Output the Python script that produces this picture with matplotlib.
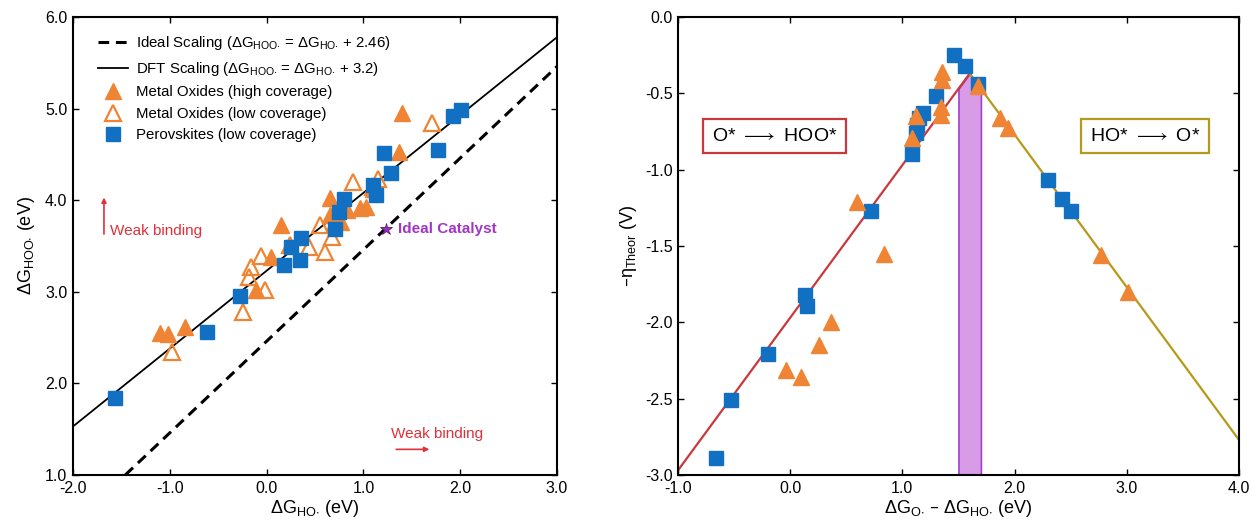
import matplotlib
matplotlib.use("Agg")
import matplotlib.pyplot as plt

plt.rcParams['font.family'] = ['Liberation Sans', 'DejaVu Sans']
plt.rcParams['mathtext.default'] = 'regular'
plt.rcParams['axes.unicode_minus'] = False

ORANGE = '#ef8534'
BLUE = '#1170c2'
RED = '#c9383c'
GOLD = '#b59a1a'
PURPLE = '#9b30c0'

# ---- left panel: scaling relation ----
ideal_x = [-1.46, 3.0]
ideal_y = [1.0, 5.46]
dft_x = [-2.0, 3.0]
dft_y = [1.53, 5.78]

high_x = [-1.10, -1.02, -0.84, -0.11, 0.05, 0.15, 0.65, 0.65, 0.70, 0.77, 0.83,
          0.96, 1.03, 1.10, 1.37, 1.40]
high_y = [2.55, 2.54, 2.62, 3.02, 3.38, 3.73, 4.02, 3.84, 3.75, 3.76, 3.89,
          3.91, 3.93, 4.12, 4.53, 4.95]

low_x = [-0.98, -0.24, -0.18, -0.16, -0.06, -0.02, 0.24, 0.44, 0.60, 0.55, 0.68,
         0.89, 1.10, 1.15, 1.71]
low_y = [2.34, 2.78, 3.16, 3.27, 3.39, 3.02, 3.51, 3.49, 3.43, 3.73, 3.60,
         4.20, 4.14, 4.23, 4.84]

perov_x = [-1.57, -0.62, -0.27, 0.18, 0.25, 0.34, 0.36, 0.71, 0.75, 0.80, 1.10,
           1.13, 1.21, 1.28, 1.77, 1.93, 2.01]
perov_y = [1.84, 2.56, 2.95, 3.29, 3.49, 3.35, 3.59, 3.69, 3.87, 4.01, 4.17,
           4.06, 4.51, 4.30, 4.55, 4.92, 4.98]

ideal_cat = (1.23, 3.69)

# ---- right panel: volcano ----
red_x = [-1.0, 1.6]
red_y = [-2.97, -0.37]
gold_x = [1.6, 4.0]
gold_y = [-0.37, -2.77]
band_x = [1.5, 1.6, 1.7]
band_top = [-0.47, -0.37, -0.47]

vsq_x = [-0.66, -0.53, -0.20, 0.13, 0.15, 0.72, 1.09, 1.12, 1.13, 1.15, 1.18,
         1.30, 1.46, 1.56, 1.67, 2.30, 2.42, 2.50]
vsq_y = [-2.89, -2.51, -2.21, -1.82, -1.89, -1.27, -0.90, -0.76, -0.71, -0.66, -0.63,
         -0.52, -0.25, -0.32, -0.44, -1.07, -1.19, -1.27]
vtri_x = [-0.04, 0.10, 0.26, 0.36, 0.60, 0.84, 1.09, 1.12, 1.35, 1.35, 1.34, 1.34,
          1.67, 1.87, 1.94, 2.77, 3.01]
vtri_y = [-2.31, -2.36, -2.15, -2.00, -1.21, -1.55, -0.79, -0.65, -0.36, -0.41, -0.59,
          -0.64, -0.455, -0.66, -0.73, -1.56, -1.80]

left_ticks_x = [-2.0, -1.0, 0.0, 1.0, 2.0, 3.0]
left_ticks_y = [1.0, 2.0, 3.0, 4.0, 5.0, 6.0]
right_ticks_x = [-1.0, 0.0, 1.0, 2.0, 3.0, 4.0]
right_ticks_y = [-3.0, -2.5, -2.0, -1.5, -1.0, -0.5, 0.0]


def style_axes(ax):
    ax.tick_params(direction='in', length=4, width=1, top=True, right=True,
                   labelsize=11.5, pad=4)
    for s in ax.spines.values():
        s.set_linewidth(1.5)


fig = plt.figure(figsize=(12.52, 5.27), dpi=100)
ax1 = fig.add_axes([0.0583, 0.0987, 0.3866, 0.869])
ax2 = fig.add_axes([0.5415, 0.0987, 0.4481, 0.869])

# left panel
ax1.plot(ideal_x, ideal_y, ls=(0, (3.5, 2.2)), color='black', lw=2.2,
         label=r'Ideal Scaling ($\Delta$G$_{HOO{\cdot}}$ = $\Delta$G$_{HO{\cdot}}$ + 2.46)')
ax1.plot(dft_x, dft_y, color='black', lw=1.3,
         label=r'DFT Scaling ($\Delta$G$_{HOO{\cdot}}$ = $\Delta$G$_{HO{\cdot}}$ + 3.2)')
ax1.plot(high_x, high_y, ls='none', marker='^', ms=11, color=ORANGE, mec=ORANGE,
         label='Metal Oxides (high coverage)')
ax1.plot(low_x, low_y, ls='none', marker='^', ms=11, mfc='none', mec=ORANGE, mew=1.6,
         label='Metal Oxides (low coverage)')
ax1.plot(perov_x, perov_y, ls='none', marker='s', ms=10, color=BLUE,
         label='Perovskites (low coverage)')
ax1.plot([ideal_cat[0]], [ideal_cat[1]], ls='none', marker='*', ms=9, color=PURPLE,
         mec='#5a1a70', mew=0.6)
ax1.text(ideal_cat[0] + 0.13, ideal_cat[1], 'Ideal Catalyst', color='#a035c8',
         fontsize=11, fontweight='bold', va='center', ha='left')

ax1.annotate('', xy=(-1.68, 4.06), xytext=(-1.68, 3.60),
             arrowprops=dict(arrowstyle='-|>', color='#e0303a', lw=1.2,
                             mutation_scale=7))
ax1.text(-1.62, 3.66, 'Weak binding', color='#e0303a', fontsize=11, va='center')
ax1.annotate('', xy=(1.71, 1.28), xytext=(1.31, 1.28),
             arrowprops=dict(arrowstyle='-|>', color='#e0303a', lw=1.2,
                             mutation_scale=7))
ax1.text(1.28, 1.45, 'Weak binding', color='#e0303a', fontsize=11, va='center')

ax1.set_xlim(-2.0, 3.0)
ax1.set_ylim(1.0, 6.0)
ax1.set_xticks(left_ticks_x)
ax1.set_yticks(left_ticks_y)
ax1.set_xticklabels([f'{v:.1f}' for v in left_ticks_x])
ax1.set_yticklabels([f'{v:.1f}' for v in left_ticks_y])
ax1.set_xlabel(r'$\Delta$G$_{HO{\cdot}}$ (eV)', fontsize=13, labelpad=2)
ax1.set_ylabel(r'$\Delta$G$_{HOO{\cdot}}$ (eV)', fontsize=13, labelpad=6)
style_axes(ax1)
ax1.legend(loc='upper left', frameon=False, fontsize=10.8, handlelength=2.0,
           borderaxespad=0.6, labelspacing=0.5, handletextpad=0.55,
           bbox_to_anchor=(0.02, 0.995))

# right panel
ax2.fill_between(band_x, -3.0, band_top, color='#d89be5', edgecolor='#a43fd0', lw=1.2,
                 zorder=1)
ax2.plot(red_x, red_y, color=RED, lw=1.6, zorder=2)
ax2.plot(gold_x, gold_y, color=GOLD, lw=1.6, zorder=2)
ax2.plot(vsq_x, vsq_y, ls='none', marker='s', ms=10, color=BLUE, zorder=3)
ax2.plot(vtri_x, vtri_y, ls='none', marker='^', ms=11, color=ORANGE, zorder=4)

ax2.text(-0.14, -0.78, r'O* $\longrightarrow$ HOO*', fontsize=14, ha='center', va='center',
         bbox=dict(boxstyle='square,pad=0.45', fc='white', ec=RED, lw=1.6))
ax2.text(3.16, -0.78, r'HO* $\longrightarrow$ O*', fontsize=14, ha='center', va='center',
         bbox=dict(boxstyle='square,pad=0.45', fc='white', ec=GOLD, lw=1.6))

ax2.set_xlim(-1.0, 4.0)
ax2.set_ylim(-3.0, 0.0)
ax2.set_xticks(right_ticks_x)
ax2.set_yticks(right_ticks_y)
ax2.set_xticklabels([f'{v:.1f}' for v in right_ticks_x])
ax2.set_yticklabels([f'{v:.1f}' for v in right_ticks_y])
ax2.set_xlabel(r'$\Delta$G$_{O{\cdot}}$ – $\Delta$G$_{HO{\cdot}}$ (eV)', fontsize=13, labelpad=2)
ax2.set_ylabel(r'–$\eta_{Theor}$ (V)', fontsize=13, labelpad=4)
style_axes(ax2)

fig.savefig('out.png', dpi=100)
